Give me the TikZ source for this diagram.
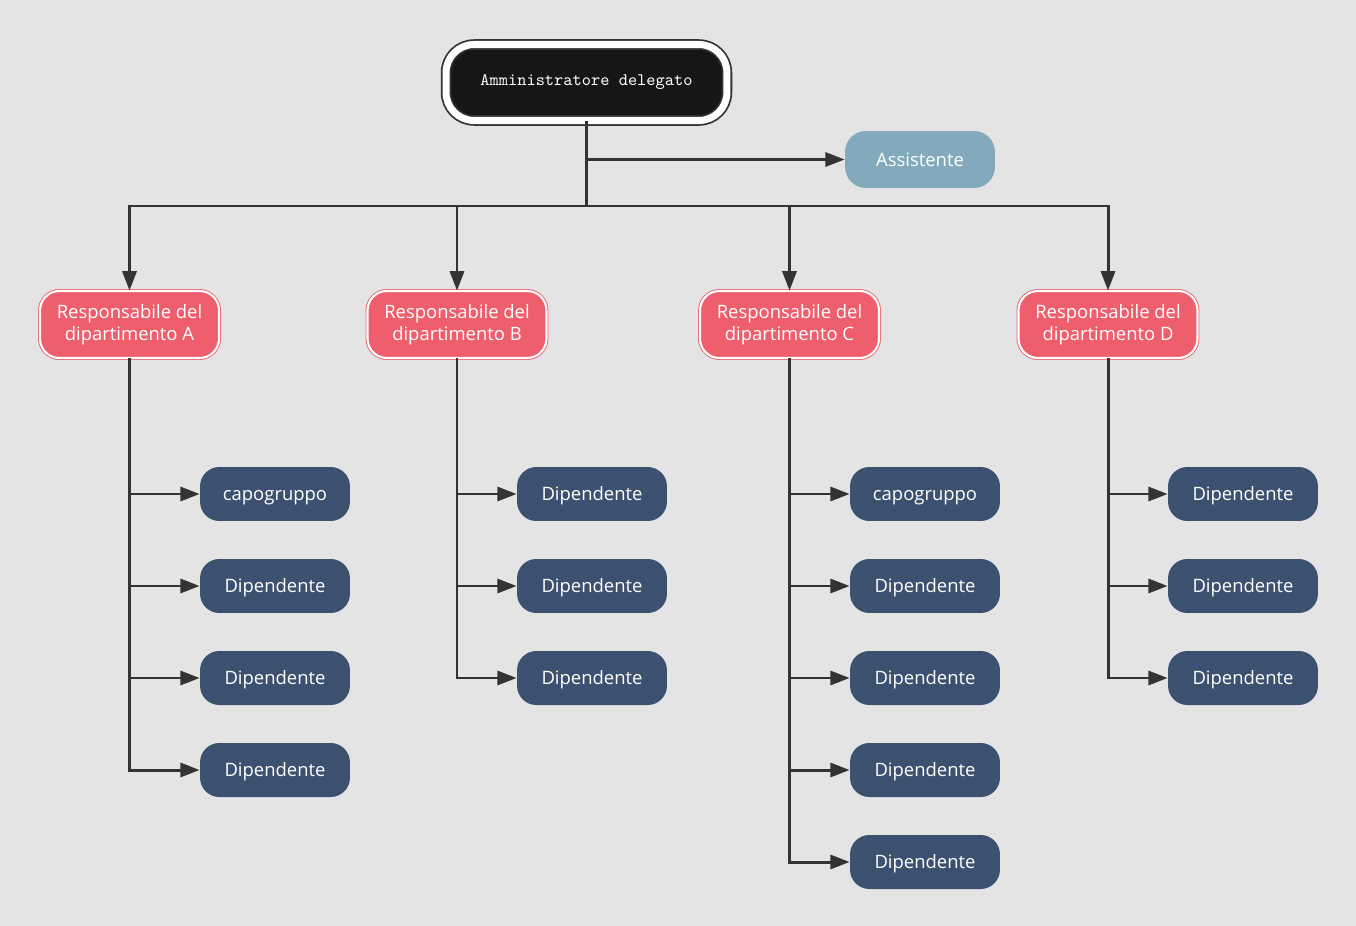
\documentclass[tikz,border=0pt]{standalone}
\usepackage{fontspec}
\setmainfont{Open Sans}
\usetikzlibrary{arrows.meta,positioning,calc}
\definecolor{Paper}{HTML}{E4E4E4}
\definecolor{Ink}{HTML}{333333}
\definecolor{Coal}{HTML}{161616}
\definecolor{Crimson}{HTML}{EE5E6D}
\definecolor{Steel}{HTML}{3C5170}
\definecolor{Sky}{HTML}{82AABC}
\tikzset{
  ceo/.style={draw=Ink,double=white,double distance=4pt,line width=1pt,fill=Coal,
    rounded corners=16pt,minimum width=5.62cm,minimum height=1.52cm,
    text=white,font=\ttfamily\fontsize{10}{12}\selectfont},
  assist/.style={fill=Sky,rounded corners=12pt,minimum width=3cm,minimum height=1.14cm,
    text=white,text height=7.5pt,text depth=0pt,font=\fontsize{10.5}{13}\selectfont},
  head/.style={draw=Crimson,double=white,double distance=1.2pt,line width=0.5pt,fill=Crimson,
    rounded corners=11pt,minimum width=3.58cm,minimum height=1.34cm,align=center,
    text=white,font=\fontsize{10.5}{12.4}\selectfont},
  staff/.style={fill=Steel,rounded corners=11pt,minimum width=3cm,minimum height=1.08cm,
    text=white,text height=7.5pt,text depth=0pt,font=\fontsize{10.5}{13}\selectfont},
  link/.style={draw=Ink,line width=1.7pt},
  arr/.style={link,-{Triangle[length=11pt,width=8pt]}}
}
\begin{document}
\begin{tikzpicture}[x=0.02cm,y=-0.02cm]
\fill[Paper] (0,0) rectangle (1356,926);
\path[use as bounding box] (0,0) rectangle (1356,926);

% top
\node[ceo] (ceo) at (586.5,82.5) {Amministratore delegato};
\node[assist] (as) at (920,159.5) {Assistente};
\coordinate (bus) at (586.5,206);

% department heads
\foreach \col/\x in {A/129.5,B/457,C/789.5,D/1108}{
  \node[head] (h\col) at (\x,324.5) {Responsabile del\\dipartimento \col};
}

\draw[arr] (ceo.south |- as.west) -- (as.west);
\draw[link] (ceo.south) -- (bus);
\foreach \col in {A,B,C,D}{
  \draw[arr] (ceo.south |- bus) -| (h\col.north);
}

% staff columns
\foreach \col/\x/\names in {A/275/{capogruppo,Dipendente,Dipendente,Dipendente},
    B/592/{Dipendente,Dipendente,Dipendente},
    C/925/{capogruppo,Dipendente,Dipendente,Dipendente,Dipendente},
    D/1243/{Dipendente,Dipendente,Dipendente}}{
  \foreach \t [count=\i] in \names{
    \node[staff] (s\col\i) at (\x,402+92*\i) {\t};
    \draw[arr] (h\col.south) |- (s\col\i.west);
  }
}
\end{tikzpicture}
\end{document}
